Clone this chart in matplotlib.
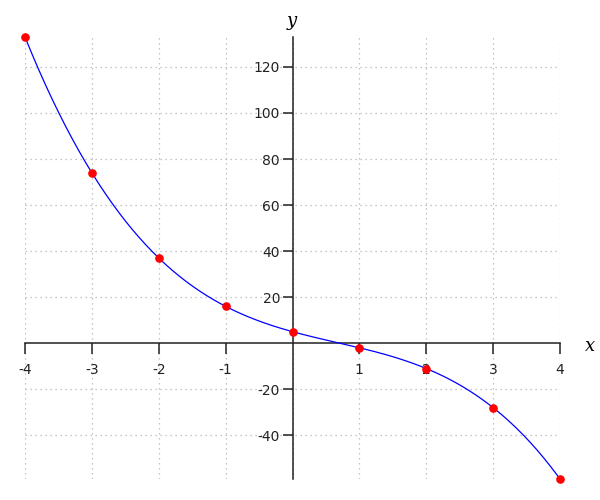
import numpy as np
import matplotlib
matplotlib.use("Agg")
import matplotlib.pyplot as plt

plt.rcParams['axes.unicode_minus'] = False

x_pts = [-4, -3, -2, -1, 0, 1, 2, 3, 4]
y_pts = [133, 74, 37, 16, 5, -2, -11, -28, -59]
x_ticks = [-4, -3, -2, -1, 1, 2, 3, 4]
y_ticks = [-40, -20, 20, 40, 60, 80, 100, 120]

fig = plt.figure(figsize=(6, 5), dpi=100)
ax = fig.add_axes([25/600, 21/500, 535/600, 442/500])

# smooth curve through the read points (cubic least-squares fit)
coef = np.polyfit(x_pts, y_pts, 3)
xs = np.linspace(min(x_pts), max(x_pts), 400)
ax.plot(xs, np.polyval(coef, xs), color='blue', lw=0.9, zorder=3)
ax.plot(x_pts, y_pts, 'o', color='red', ms=5.2, zorder=4, clip_on=False)

ax.set_xlim(-4, 4)
ax.set_ylim(-59, 133)

for s in ['top', 'right']:
    ax.spines[s].set_visible(False)
ax.spines['left'].set_position(('data', 0))
ax.spines['bottom'].set_position(('data', 0))
for s in ['left', 'bottom']:
    ax.spines[s].set_color('#222222')
    ax.spines[s].set_linewidth(1.1)

ax.set_xticks(x_ticks)
ax.set_yticks(y_ticks)
ax.set_xticklabels([str(v) for v in x_ticks])
ax.set_yticklabels([str(v) for v in y_ticks])
ax.tick_params(axis='x', direction='out', length=8, width=1.1, pad=6,
               labelsize=10, colors='#222222')
ax.tick_params(axis='y', direction='out', length=7, width=1.1, pad=2,
               labelsize=10, colors='#222222')

for v in x_pts:
    ax.axvline(v, color='#b4b4b4', lw=0.9, ls=(0, (1, 3)), zorder=0)
for v in y_ticks:
    ax.axhline(v, color='#b4b4b4', lw=0.9, ls=(0, (1, 3)), zorder=0)

ax.patch.set_visible(False)

fig.text(590/600, 1 - 346/500, 'x', fontsize=13, family='DejaVu Serif',
         style='italic', ha='center', va='center')
fig.text(292/600, 1 - 21/500, 'y', fontsize=13, family='DejaVu Serif',
         style='italic', ha='center', va='center')

fig.savefig('out.png', dpi=100)
